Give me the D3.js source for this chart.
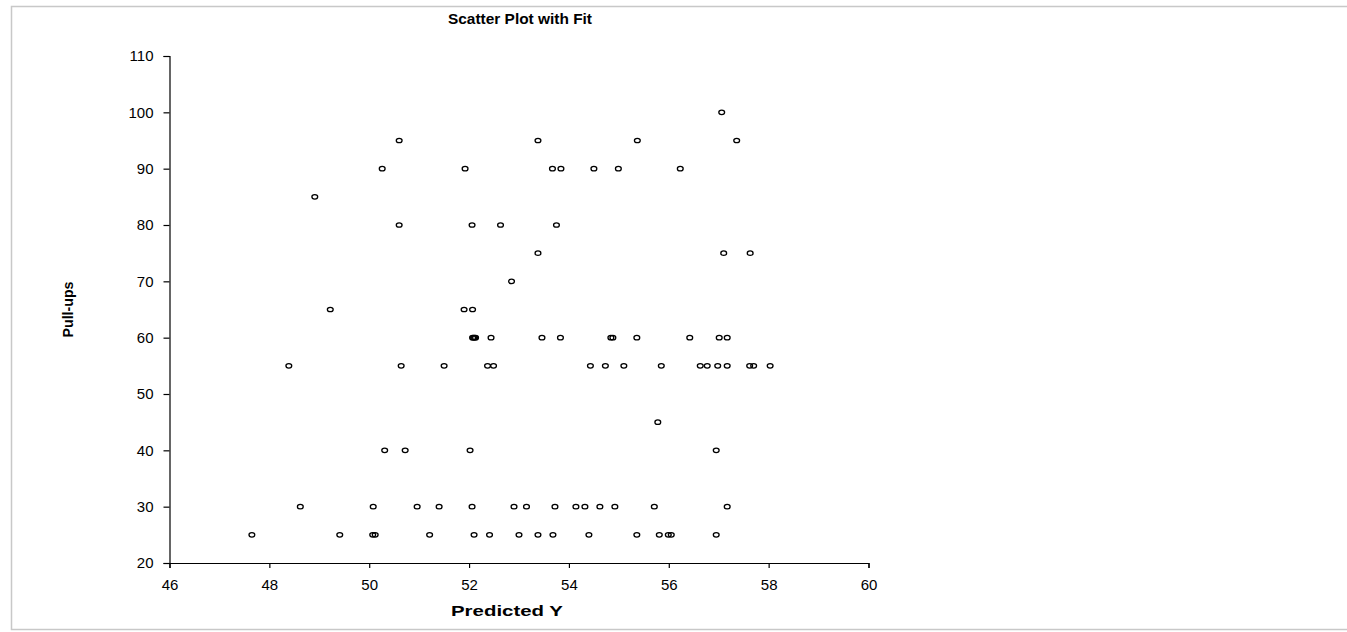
<!DOCTYPE html>
<html>
<head>
<meta charset="utf-8">
<script src="https://cdn.jsdelivr.net/npm/d3@7"></script>
<style>
  html, body { margin: 0; padding: 0; background: #fff; }
  svg { display: block; }
  .tick text { font-family: "Liberation Sans", Arial, sans-serif; font-size: 15px; fill: #000; }
  .domain, .tick line { stroke: #000; stroke-width: 1.2px; }
</style>
</head>
<body>
<svg id="chart" width="1347" height="632"></svg>
<script>
// Predicted Y (x) and observed pull-ups (y), one entry per athlete
const predicted = [
  57.06,
  50.60, 53.38, 55.37, 57.36,
  50.26, 51.92, 53.67, 53.84, 54.50, 54.99, 56.23,
  48.91,
  50.60, 52.06, 52.63, 53.75,
  53.38, 57.10, 57.63,
  52.85,
  49.22, 51.90, 52.07,
  52.07, 52.09, 52.11, 52.13, 52.44, 53.46, 53.83, 54.84, 54.88, 55.36, 56.42, 57.01, 57.17,
  48.39, 50.64, 51.50, 52.37, 52.49, 54.43, 54.73, 55.10, 55.85, 56.63, 56.77, 56.98, 57.17, 57.62, 57.70, 58.03,
  55.78,
  50.31, 50.72, 52.02, 56.95,
  48.62, 50.08, 50.96, 51.40, 52.06, 52.90, 53.15, 53.72, 54.14, 54.32, 54.62, 54.92, 55.71, 57.17,
  47.65, 49.41, 50.07, 50.12, 51.21, 52.10, 52.41, 53.00, 53.38, 53.68, 54.40, 55.36, 55.81, 55.99, 56.05, 56.95
];
const pullups = [
  100,
  95, 95, 95, 95,
  90, 90, 90, 90, 90, 90, 90,
  85,
  80, 80, 80, 80,
  75, 75, 75,
  70,
  65, 65, 65,
  60, 60, 60, 60, 60, 60, 60, 60, 60, 60, 60, 60, 60,
  55, 55, 55, 55, 55, 55, 55, 55, 55, 55, 55, 55, 55, 55, 55, 55,
  45,
  40, 40, 40, 40,
  30, 30, 30, 30, 30, 30, 30, 30, 30, 30, 30, 30, 30, 30,
  25, 25, 25, 25, 25, 25, 25, 25, 25, 25, 25, 25, 25, 25, 25, 25
];
const xTicks = [46, 48, 50, 52, 54, 56, 58, 60];
const yTicks = [20, 30, 40, 50, 60, 70, 80, 90, 100, 110];

const svg = d3.select("#chart");

// outer chart frame
svg.append("rect")
  .attr("x", 11.5).attr("y", 6.5)
  .attr("width", 1345).attr("height", 623)
  .attr("fill", "none").attr("stroke", "#c8c8c8").attr("stroke-width", 1.5);

const x = d3.scaleLinear().domain([46, 60]).range([169.5, 868.5]);
const y = d3.scaleLinear().domain([20, 110]).range([563, 56]);

svg.append("g")
  .attr("transform", `translate(0,${y(20)})`)
  .call(d3.axisBottom(x).tickValues(xTicks).tickSize(5).tickPadding(11).tickFormat(d3.format("d")));

svg.append("g")
  .attr("transform", `translate(${x(46)},0)`)
  .call(d3.axisLeft(y).tickValues(yTicks).tickSize(6).tickPadding(10).tickFormat(d3.format("d")));

// markers: small hollow ovals
svg.append("g")
  .selectAll("ellipse")
  .data(predicted.map((p, i) => [p, pullups[i]]))
  .join("ellipse")
  .attr("cx", d => x(d[0]))
  .attr("cy", d => y(d[1]))
  .attr("rx", 2.9)
  .attr("ry", 2.2)
  .attr("fill", "none")
  .attr("stroke", "#000")
  .attr("stroke-width", 1.3);

const boldFont = "'Liberation Sans', Arial, sans-serif";

svg.append("text")
  .attr("x", 520).attr("y", 24)
  .attr("text-anchor", "middle")
  .attr("font-family", boldFont).attr("font-weight", "bold")
  .attr("font-size", 15)
  .attr("textLength", 144).attr("lengthAdjust", "spacingAndGlyphs")
  .text("Scatter Plot with Fit");

svg.append("text")
  .attr("x", 507).attr("y", 616)
  .attr("text-anchor", "middle")
  .attr("font-family", boldFont).attr("font-weight", "bold")
  .attr("font-size", 14.5)
  .attr("textLength", 112).attr("lengthAdjust", "spacingAndGlyphs")
  .text("Predicted Y");

svg.append("text")
  .attr("transform", `translate(73,${(y(20) + y(110)) / 2}) rotate(-90)`)
  .attr("text-anchor", "middle")
  .attr("font-family", boldFont).attr("font-weight", "bold")
  .attr("font-size", 15)
  .attr("textLength", 56).attr("lengthAdjust", "spacingAndGlyphs")
  .text("Pull-ups");
</script>
</body>
</html>
